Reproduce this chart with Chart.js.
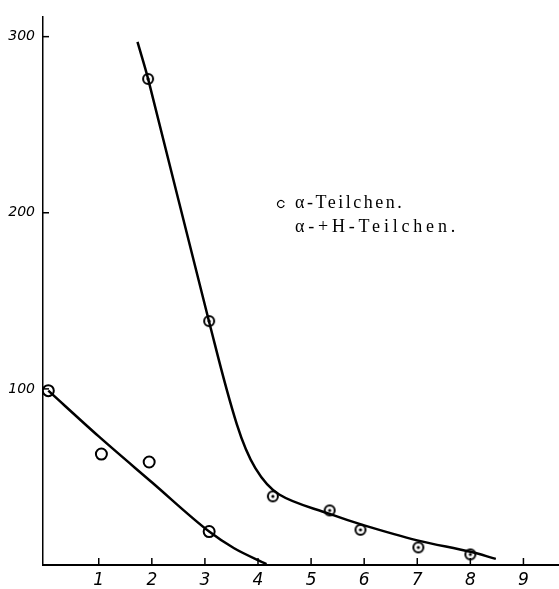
<!DOCTYPE html>
<html>
<head>
<meta charset="utf-8">
<script src="https://cdn.jsdelivr.net/npm/chart.js@4.4.1/dist/chart.umd.min.js"></script>
<style>
  html, body { margin: 0; padding: 0; background: #fff; overflow: hidden; }
  #wrap { width: 559px; height: 589px; position: relative; }
  canvas { display: block; }
</style>
</head>
<body>
<div id="wrap"><canvas id="grafico"></canvas></div>
<script>
// valores
const xTicks = [1, 2, 3, 4, 5, 6, 7, 8, 9];
const yTicks = [100, 200, 300];

// alfa-Teilchen (círculos abertos)
const alphaX = [0.05, 1.05, 1.95, 3.08];
const alphaY = [99, 63, 58.5, 19];
const alphaCurveX = [0.05, 1.0, 2.0, 3.08, 3.55, 4.16];
const alphaCurveY = [99, 73, 47, 19, 9.5, 0.5];

// alfa + H-Teilchen (círculos com ponto)
const ahX = [1.93, 3.08, 4.28, 5.35, 5.93, 7.02, 8.0];
const ahY = [276, 138.5, 39, 31, 20, 10, 6];
const ahCurveX = [1.73, 1.93, 3.08, 3.6, 3.95, 4.4, 5.35, 6.0, 7.0, 8.0, 8.48];
const ahCurveY = [297, 276, 138, 80, 55, 40, 29, 22.5, 14, 7.5, 3.5];

const legendLines = ['α-Teilchen.', 'α-+H-Teilchen.'];

function pontos(xs, ys) {
    return xs.map((x, i) => ({ x: x, y: ys[i] }));
}

// marcador: círculo com ponto no centro
function circuloComPonto() {
    const c = document.createElement('canvas');
    c.width = 14; c.height = 14;
    const g = c.getContext('2d');
    g.fillStyle = '#fff';
    g.strokeStyle = '#000';
    g.lineWidth = 2;
    g.beginPath(); g.arc(7, 7, 5, 0, Math.PI * 2); g.fill(); g.stroke();
    g.fillStyle = '#000';
    g.beginPath(); g.arc(7, 7, 1.6, 0, Math.PI * 2); g.fill();
    return c;
}

const fonteTicks = "'DejaVu Sans', sans-serif";

// tracinhos dos eixos voltados para dentro + legenda em texto
const extras = {
    id: 'extras',
    afterDraw(chart) {
        const ctx = chart.ctx;
        const xs = chart.scales.x, ys = chart.scales.y;
        const area = chart.chartArea;
        ctx.save();
        ctx.strokeStyle = '#000';
        ctx.lineWidth = 1.5;
        xTicks.forEach(v => {
            const px = xs.getPixelForValue(v);
            ctx.beginPath(); ctx.moveTo(px, area.bottom); ctx.lineTo(px, area.bottom - 7); ctx.stroke();
        });
        yTicks.forEach(v => {
            const py = ys.getPixelForValue(v);
            ctx.beginPath(); ctx.moveTo(area.left, py); ctx.lineTo(area.left + 6, py); ctx.stroke();
        });
        // legenda
        ctx.fillStyle = '#000';
        ctx.font = "18px 'Liberation Serif', serif";
        ctx.textBaseline = 'middle';
        ctx.letterSpacing = '2.5px';
        ctx.fillText(legendLines[0], 295, 203);
        ctx.letterSpacing = '3.8px';
        ctx.fillText(legendLines[1], 295, 227);
        ctx.lineWidth = 1.3;
        ctx.beginPath(); ctx.arc(281, 204, 3.5, 0.4, Math.PI * 2 - 0.4); ctx.stroke();
        ctx.restore();
    }
};

new Chart(document.getElementById('grafico'), {
    type: 'line',
    data: {
        datasets: [
            {
                label: 'curva alfa',
                data: pontos(alphaCurveX, alphaCurveY),
                borderColor: '#000',
                borderWidth: 2.5,
                pointRadius: 0,
                cubicInterpolationMode: 'monotone',
                fill: false
            },
            {
                label: 'curva alfa+H',
                data: pontos(ahCurveX, ahCurveY),
                borderColor: '#000',
                borderWidth: 2.5,
                pointRadius: 0,
                tension: 0.35,
                fill: false
            },
            {
                label: 'α-Teilchen',
                data: pontos(alphaX, alphaY),
                showLine: false,
                pointStyle: 'circle',
                pointRadius: 5.5,
                pointBorderWidth: 2,
                pointBorderColor: '#000',
                pointBackgroundColor: '#fff'
            },
            {
                label: 'α-+H-Teilchen',
                data: pontos(ahX, ahY),
                showLine: false,
                pointStyle: circuloComPonto(),
                pointRadius: 7
            }
        ]
    },
    options: {
        responsive: true,
        maintainAspectRatio: false,
        animation: false,
        layout: { autoPadding: false, padding: { top: 12, right: 0, left: 0, bottom: 0 } },
        plugins: {
            legend: { display: false },
            tooltip: { enabled: false }
        },
        scales: {
            x: {
                type: 'linear',
                min: -0.05,
                max: 9.67,
                afterBuildTicks: axis => { axis.ticks = xTicks.map(v => ({ value: v })); },
                afterFit: axis => { axis.height = 24; },
                grid: { display: false, drawTicks: false },
                border: { display: true, color: '#000', width: 2 },
                ticks: {
                    color: '#000',
                    padding: 5,
                    font: { family: fonteTicks, style: 'italic', size: 17 }
                }
            },
            y: {
                type: 'linear',
                min: 0,
                max: 311.5,
                afterBuildTicks: axis => { axis.ticks = yTicks.map(v => ({ value: v })); },
                afterFit: axis => { axis.width = 43; },
                grid: { display: false, drawTicks: false },
                border: { display: true, color: '#000', width: 1.5 },
                ticks: {
                    color: '#000',
                    padding: 8,
                    font: { family: fonteTicks, style: 'italic', size: 14 }
                }
            }
        }
    },
    plugins: [extras]
});
</script>
</body>
</html>
